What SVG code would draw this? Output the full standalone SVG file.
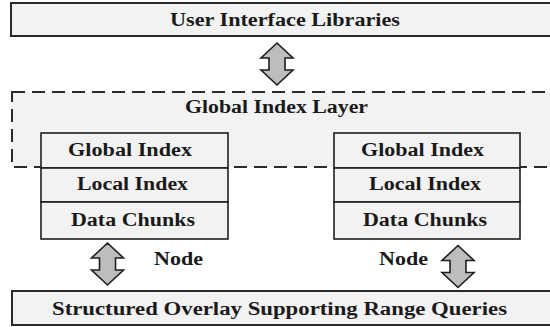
<svg xmlns="http://www.w3.org/2000/svg" width="550" height="327" viewBox="0 0 550 327">
  <style>
    .bar { fill: #f2f2f2; stroke: #2a2a2a; stroke-width: 2; }
    .layer { fill: #f2f2f2; stroke: #2a2a2a; stroke-width: 2; stroke-dasharray: 13 7; }
    .cell { fill: #f2f2f2; stroke: #1e1e1e; stroke-width: 1.6; }
    .lbl { font-family: "Liberation Serif", "Times New Roman", serif; font-weight: bold; font-size: 18px; fill: #1a1a1a; }
    .arrow { fill: #bdbdbd; stroke: #1e1e1e; stroke-width: 1.6; stroke-linejoin: miter; }
  </style>
  <defs>
    <path id="dbl-arrow" d="M0,-21 L16,-6 L8,-6 L8,6 L16,6 L0,21 L-16,6 L-8,6 L-8,-6 L-16,-6 Z"/>
  </defs>
  <rect width="550" height="327" fill="#ffffff"/>

  <!-- top layer -->
  <g id="ui-libraries">
    <rect class="bar" x="11" y="3" width="560" height="33"/>
    <text class="lbl" x="170" y="26" textLength="230" lengthAdjust="spacingAndGlyphs">User Interface Libraries</text>
  </g>

  <!-- dashed global index layer -->
  <g id="global-index-layer">
    <rect class="layer" x="12" y="92" width="560" height="75"/>
    <text class="lbl" x="185" y="113" textLength="183" lengthAdjust="spacingAndGlyphs">Global Index Layer</text>
  </g>

  <!-- left node stack -->
  <g id="node-left">
    <rect class="cell" x="41" y="133" width="187" height="35"/>
    <rect class="cell" x="41" y="168" width="187" height="34"/>
    <rect class="cell" x="41" y="202" width="187" height="37"/>
    <text class="lbl" x="68" y="156" textLength="124" lengthAdjust="spacingAndGlyphs">Global Index</text>
    <text class="lbl" x="77" y="190" textLength="111" lengthAdjust="spacingAndGlyphs">Local Index</text>
    <text class="lbl" x="71" y="226" textLength="124" lengthAdjust="spacingAndGlyphs">Data Chunks</text>
    <text class="lbl" x="154" y="265" textLength="49" lengthAdjust="spacingAndGlyphs">Node</text>
  </g>

  <!-- right node stack -->
  <g id="node-right">
    <rect class="cell" x="334" y="133" width="186" height="35"/>
    <rect class="cell" x="334" y="168" width="186" height="34"/>
    <rect class="cell" x="334" y="202" width="186" height="37"/>
    <text class="lbl" x="361" y="156" textLength="123" lengthAdjust="spacingAndGlyphs">Global Index</text>
    <text class="lbl" x="369" y="190" textLength="112" lengthAdjust="spacingAndGlyphs">Local Index</text>
    <text class="lbl" x="363" y="226" textLength="124" lengthAdjust="spacingAndGlyphs">Data Chunks</text>
    <text class="lbl" x="379" y="265" textLength="49" lengthAdjust="spacingAndGlyphs">Node</text>
  </g>

  <!-- bottom overlay layer -->
  <g id="structured-overlay">
    <rect class="bar" x="12" y="291" width="560" height="34"/>
    <text class="lbl" x="52" y="315" textLength="455" lengthAdjust="spacingAndGlyphs">Structured Overlay Supporting Range Queries</text>
  </g>

  <!-- connectors: double-headed block arrows -->
  <g id="connectors">
    <use class="arrow" href="#dbl-arrow" transform="translate(277,64)"/>
    <use class="arrow" href="#dbl-arrow" transform="translate(107.5,264)"/>
    <use class="arrow" href="#dbl-arrow" transform="translate(458,266.5)"/>
  </g>
</svg>
